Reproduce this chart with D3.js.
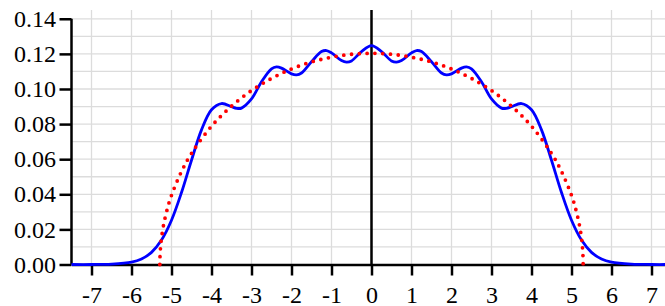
<!DOCTYPE html>
<html>
<head>
<meta charset="utf-8">
<script src="https://cdn.jsdelivr.net/npm/d3@7"></script>
<style>
  body { margin: 0; background: #fff; }
  svg { display: block; }
  svg text { font-family: serif; }
</style>
</head>
<body>
<div id="chart"></div>
<script>
const Width = 665;
const Height = 306;

// tick labels
const xTicks = [-7, -6, -5, -4, -3, -2, -1, 0, 1, 2, 3, 4, 5, 6, 7];
const yTicks = [0, 0.02, 0.04, 0.06, 0.08, 0.10, 0.12, 0.14];

// blue curve (solid)
const blueX = [-7.5, -7, -6.5, -6, -5.75, -5.5, -5.25, -5, -4.75, -4.5, -4.25, -4, -3.75, -3.5, -3.375, -3.25, -3, -2.75, -2.5, -2.375, -2.25, -2, -1.875, -1.75, -1.5, -1.25, -1.125, -1, -0.75, -0.625, -0.5, -0.25,
  0,
  0.25, 0.5, 0.625, 0.75, 1, 1.125, 1.25, 1.5, 1.75, 1.875, 2, 2.25, 2.375, 2.5, 2.75, 3, 3.25, 3.375, 3.5, 3.75, 4, 4.25, 4.5, 4.75, 5, 5.25, 5.5, 5.75, 6, 6.5, 7, 7.5];
const blueY = [0, 0, 0.0002, 0.0013, 0.0031, 0.0069, 0.0139, 0.0252, 0.0410, 0.0594, 0.0767, 0.0882, 0.0917, 0.0899, 0.0890, 0.0891, 0.0943, 0.1041, 0.1115, 0.1126, 0.1119, 0.1086, 0.1080, 0.1091, 0.1155, 0.1213, 0.1219, 0.1206, 0.1162, 0.1153, 0.1160, 0.1213,
  0.1247,
  0.1213, 0.1160, 0.1153, 0.1162, 0.1206, 0.1219, 0.1213, 0.1155, 0.1091, 0.1080, 0.1086, 0.1119, 0.1126, 0.1115, 0.1041, 0.0943, 0.0891, 0.0890, 0.0899, 0.0917, 0.0882, 0.0767, 0.0594, 0.0410, 0.0252, 0.0139, 0.0069, 0.0031, 0.0013, 0.0002, 0, 0];

// red curve (dotted)
const redX = [-5.2915, -5.285, -5.27, -5.25, -5.2, -5.1, -5, -4.75, -4.5, -4, -3.5, -3, -2.5, -2, -1.5, -1, -0.5,
  0,
  0.5, 1, 1.5, 2, 2.5, 3, 3.5, 4, 4.5, 4.75, 5, 5.1, 5.2, 5.25, 5.27, 5.285, 5.2915];
const redY = [0, 0.0060, 0.0108, 0.0150, 0.0223, 0.0321, 0.0394, 0.0530, 0.0633, 0.0788, 0.0902, 0.0991, 0.1060, 0.1114, 0.1154, 0.1181, 0.1198,
  0.1203,
  0.1198, 0.1181, 0.1154, 0.1114, 0.1060, 0.0991, 0.0902, 0.0788, 0.0633, 0.0530, 0.0394, 0.0321, 0.0223, 0.0150, 0.0108, 0.0060, 0];

const svg = d3.select('#chart').
append('svg').
attr('width', Width).
attr('height', Height);

const x = d3.scaleLinear().domain([-7.5, 7.5]).range([71.5, 671.5]);
const y = d3.scaleLinear().domain([0, 0.145]).range([264.5, 10]);

//grid
const grid = svg.append('g').
attr('stroke', '#dcdcdc').
attr('stroke-width', 1.3);

grid.selectAll('.vgrid').
data(xTicks).
enter().
append('line').
attr('x1', d => x(d)).
attr('x2', d => x(d)).
attr('y1', y(0)).
attr('y2', y(0.145));

grid.selectAll('.hgrid').
data(d3.range(1, 15).map(i => i / 100)).
enter().
append('line').
attr('x1', x(-7.5)).
attr('x2', x(7.5)).
attr('y1', d => y(d)).
attr('y2', d => y(d));

//x axis
const xAxis = svg.append('g').
attr('transform', 'translate(0,' + y(0) + ')').
call(d3.axisBottom(x).tickValues(xTicks).tickSize(11).tickSizeOuter(0).tickFormat(d => String(d)));
xAxis.attr('font-family', 'serif').attr('font-size', 24);
xAxis.selectAll('path, line').attr('stroke', '#000').attr('stroke-width', 2.5);
xAxis.selectAll('text').
attr('y', 38).
attr('dy', null).
attr('fill', '#000');

//y axis
const yAxis = svg.append('g').
attr('transform', 'translate(' + x(-7.5) + ',0)').
call(d3.axisLeft(y).tickValues(yTicks).tickSize(12).tickPadding(3.5).tickFormat(d3.format('.2f')));
yAxis.attr('font-family', 'serif').attr('font-size', 24);
yAxis.select('.domain').remove();
yAxis.selectAll('line').attr('stroke', '#000').attr('stroke-width', 2.5);
yAxis.selectAll('text').attr('fill', '#000');
yAxis.append('line').
attr('y1', y(0)).
attr('y2', y(0.14)).
attr('stroke', '#000').
attr('stroke-width', 2.5);

//vertical line at zero
svg.append('line').
attr('x1', x(0)).
attr('x2', x(0)).
attr('y1', y(0)).
attr('y2', y(0.145)).
attr('stroke', '#000').
attr('stroke-width', 2.5);

const line = d3.line().
x(d => x(d[0])).
y(d => y(d[1])).
curve(d3.curveCatmullRom.alpha(0.5));

svg.append('path').
datum(d3.zip(blueX, blueY)).
attr('d', line).
attr('fill', 'none').
attr('stroke', '#0000ff').
attr('stroke-width', 2.8);

svg.append('path').
datum(d3.zip(redX, redY)).
attr('d', line).
attr('fill', 'none').
attr('stroke', '#ff0000').
attr('stroke-width', 3.8).
attr('stroke-linecap', 'round').
attr('stroke-dasharray', '0 7.8');
</script>
</body>
</html>
